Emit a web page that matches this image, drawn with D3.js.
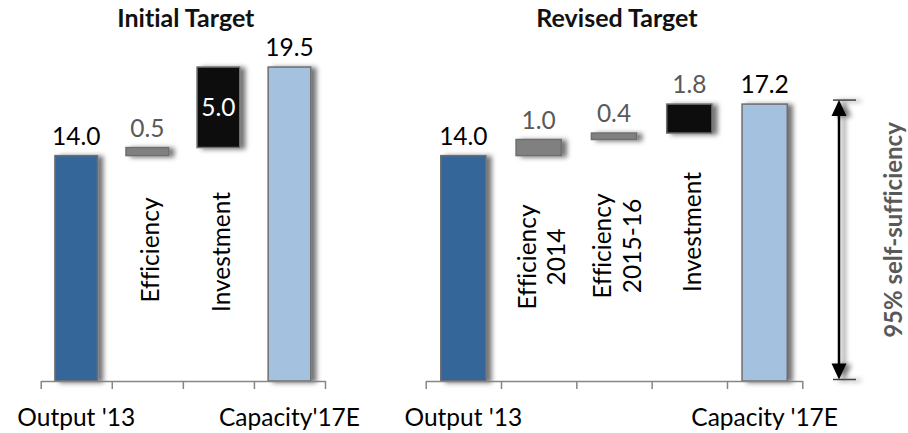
<!DOCTYPE html>
<html>
<head>
<meta charset="utf-8">
<script src="https://cdn.jsdelivr.net/npm/d3@7"></script>
<style>
  html, body { margin: 0; padding: 0; background: #fff; }
  svg { display: block; font-family: Lato, "Open Sans", sans-serif; font-variant-ligatures: none; }
</style>
</head>
<body>
<svg id="chart" width="908" height="433"></svg>
<script>
// Waterfall data: left panel (initial target)
const initialCategories = ["Output '13", "Efficiency", "Investment", "Capacity'17E"];
const initialValues = [14.0, 0.5, 5.0, 19.5];
const initialKinds = ["start", "step", "step", "total"];

// Waterfall data: right panel (revised target)
const revisedCategories = ["Output '13", "Efficiency\n2014", "Efficiency\n2015-16", "Investment", "Capacity '17E"];
const revisedValues = [14.0, 1.0, 0.4, 1.8, 17.2];
const revisedKinds = ["start", "step", "step", "step", "total"];

const panelTitles = ["Initial Target", "Revised Target"];
const annotationText = "95% self-sufficiency";

const svg = d3.select("#chart");
const W = 908, H = 433;
svg.append("rect").attr("width", W).attr("height", H).attr("fill", "#fff");

// soft drop shadow shared by bars and the arrow
const defs = svg.append("defs");
const f = defs.append("filter").attr("id", "shadow")
  .attr("filterUnits", "userSpaceOnUse")
  .attr("x", 0).attr("y", 0).attr("width", W).attr("height", H);
f.append("feDropShadow").attr("dx", 5).attr("dy", 1).attr("stdDeviation", 2.8)
  .attr("flood-color", "#000").attr("flood-opacity", 0.55);

const y = d3.scaleLinear().domain([0, 20]).range([381, 59]);

const colors = {
  start: "#346699",
  total: "#a4c2e0",
  stepSmall: "#808080",
  stepBig: "#0d0d0d"
};

const FS = 24.5;      // body text size
const CAP = 17.6;     // approximate cap height at FS

function drawPanel(cfg) {
  const { categories, values, kinds, x0, x1, title, investmentIndex, labelMid } = cfg;
  const n = categories.length;
  const x = d3.scaleBand().domain(d3.range(n)).range([x0, x1])
    .paddingInner(0.4).paddingOuter(0.2);
  const g = svg.append("g");

  // running totals for the waterfall
  let run = 0;
  const segs = values.map((v, i) => {
    let lo, hi;
    if (kinds[i] === "step") { lo = run; hi = run + v; run = hi; }
    else { lo = 0; hi = v; run = v; }
    return { i, v, lo, hi, kind: kinds[i] };
  });
  // step labels go inside a bar only when it is tall enough to hold them
  const inside = d => d.kind === "step" && (y(d.lo) - y(d.hi)) > 50;

  // bars
  g.selectAll("rect.bar").data(segs).join("rect")
    .attr("class", "bar")
    .attr("x", d => x(d.i))
    .attr("width", x.bandwidth())
    .attr("y", d => y(d.hi))
    .attr("height", d => y(d.lo) - y(d.hi))
    .attr("fill", d => d.kind === "start" ? colors.start
      : d.kind === "total" ? colors.total
      : (d.i === investmentIndex ? colors.stepBig : colors.stepSmall))
    .attr("stroke", "#6e6e6e")
    .attr("stroke-width", 1.5)
    .attr("filter", "url(#shadow)");

  // value labels
  g.selectAll("text.val").data(segs).join("text")
    .attr("class", "val")
    .attr("text-anchor", "middle")
    .attr("font-size", FS)
    .attr("x", d => x(d.i) + x.bandwidth() / 2)
    .attr("y", d => inside(d) ? (y(d.lo) + y(d.hi)) / 2 + CAP / 2 : y(d.hi) - 11)
    .attr("fill", d => inside(d) ? "#ffffff" : (d.kind === "step" ? "#595959" : "#000"))
    .text(d => d.v.toFixed(1));

  // axis with tick marks at slot boundaries
  const xl = d3.scaleLinear().domain([0, n]).range([x0, x1]);
  const axis = g.append("g").attr("transform", `translate(0,${y(0)})`)
    .call(d3.axisBottom(xl).tickValues(d3.range(n + 1)).tickSize(8).tickSizeOuter(0).tickFormat(""));
  axis.selectAll("path, line").attr("stroke", "#868686").attr("stroke-width", 1.5);

  // category labels: ends under the axis, steps rotated inside the plot
  categories.forEach((c, i) => {
    const cx = x(i) + x.bandwidth() / 2;
    if (kinds[i] !== "step") {
      g.append("text").attr("x", cx).attr("y", 425.5)
        .attr("text-anchor", "middle").attr("font-size", FS).attr("fill", "#000")
        .text(c);
    } else {
      const lines = c.split("\n");
      const lh = 29.4;
      const t = g.append("text")
        .attr("transform", `translate(${cx + 3},${labelMid[i]}) rotate(-90)`)
        .attr("text-anchor", "middle").attr("font-size", FS).attr("fill", "#000");
      lines.forEach((ln, k) => {
        t.append("tspan").attr("x", 0)
          .attr("y", CAP / 2 - (lines.length - 1) * lh / 2 + k * lh)
          .text(ln);
      });
    }
  });

  // panel title
  g.append("text").attr("x", (x0 + x1) / 2 + 3).attr("y", 26.5)
    .attr("text-anchor", "middle").attr("font-size", 25).attr("font-weight", "bold")
    .attr("fill", "#111").text(title);

  return { x, segs };
}

drawPanel({
  categories: initialCategories, values: initialValues, kinds: initialKinds,
  x0: 40.7, x1: 325, title: panelTitles[0], investmentIndex: 2,
  labelMid: [null, 250, 252, null]
});

drawPanel({
  categories: revisedCategories, values: revisedValues, kinds: revisedKinds,
  x0: 425.7, x1: 802.3, title: panelTitles[1], investmentIndex: 3,
  labelMid: [null, 257, 246, 232, null]
});

// double-headed arrow spanning the revised capacity
const ax = 802.3 + 36.7;
const topY = y(revisedValues[revisedValues.length - 1]) - 4;
const botY = y(0) - 1.5;
const ag = svg.append("g").attr("filter", "url(#shadow)");
ag.append("line").attr("x1", ax - 6).attr("x2", ax + 17).attr("y1", topY).attr("y2", topY)
  .attr("stroke", "#404040").attr("stroke-width", 1.5);
ag.append("line").attr("x1", ax - 6).attr("x2", ax + 17).attr("y1", botY).attr("y2", botY)
  .attr("stroke", "#404040").attr("stroke-width", 1.5);
ag.append("line").attr("x1", ax).attr("x2", ax).attr("y1", topY + 12).attr("y2", botY - 12)
  .attr("stroke", "#000").attr("stroke-width", 2.5);
ag.append("path")
  .attr("d", `M${ax},${topY} L${ax - 7.5},${topY + 16} L${ax + 7.5},${topY + 16} Z`)
  .attr("fill", "#000");
ag.append("path")
  .attr("d", `M${ax},${botY} L${ax - 7.5},${botY - 16} L${ax + 7.5},${botY - 16} Z`)
  .attr("fill", "#000");

svg.append("text")
  .attr("transform", `translate(902,230) rotate(-90)`)
  .attr("text-anchor", "middle").attr("font-size", 24).attr("font-weight", "bold")
  .attr("fill", "#595959").text(annotationText);
</script>
</body>
</html>
